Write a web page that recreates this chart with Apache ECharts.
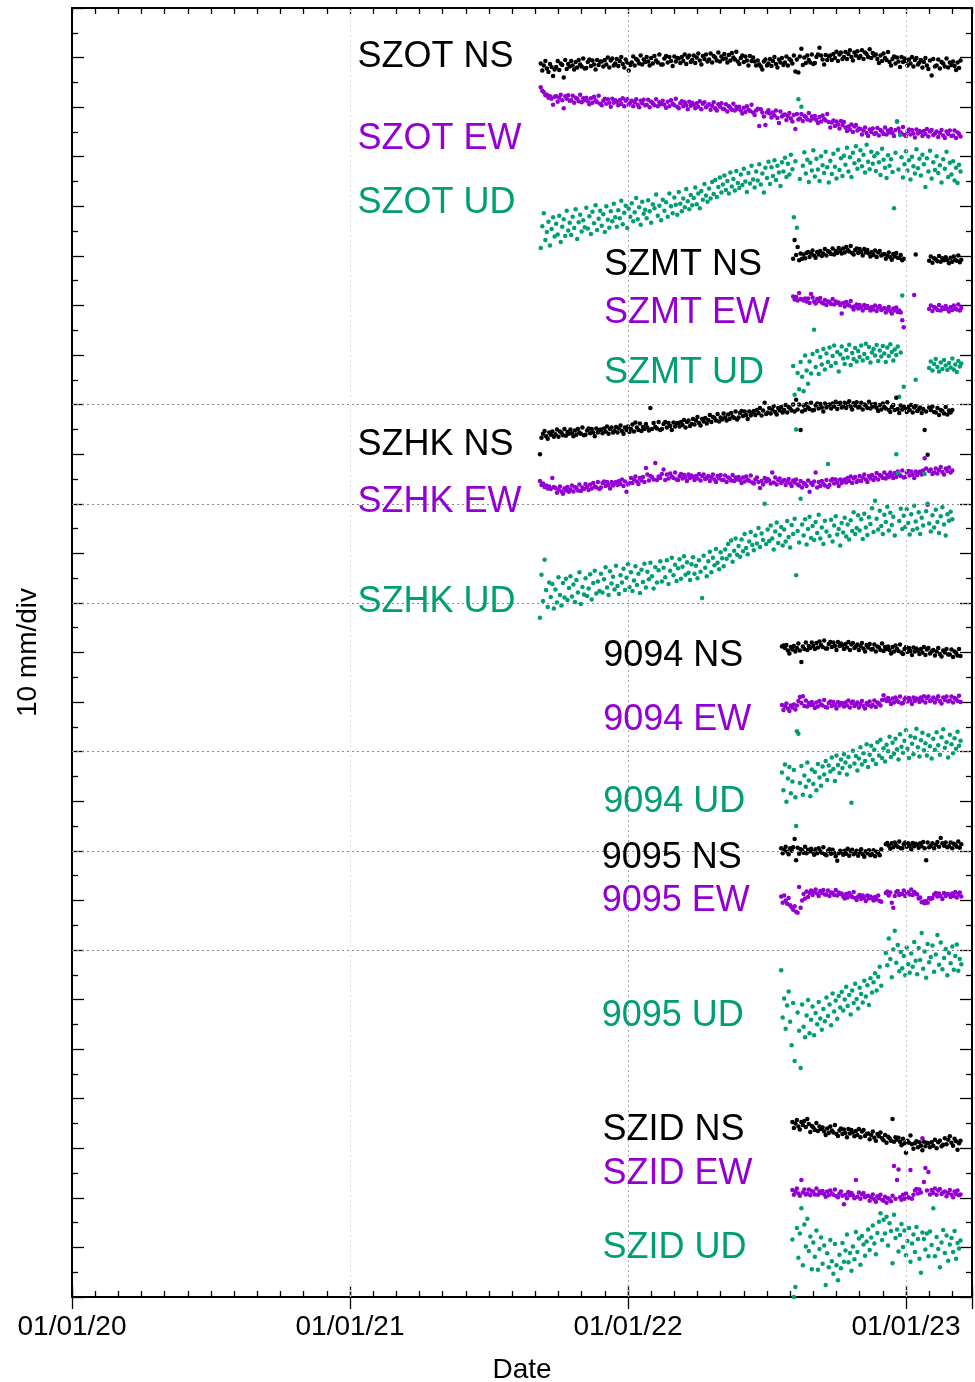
<!DOCTYPE html>
<html>
<head>
<meta charset="utf-8">
<title>GNSS displacement time series</title>
<script src="https://cdn.jsdelivr.net/npm/echarts@6.0.0/dist/echarts.min.js"></script>
<style>
  html, body { margin: 0; padding: 0; background: #ffffff; }
  #chart { width: 975px; height: 1382px; }
</style>
</head>
<body>
<div id="chart"></div>
<script>
// Daily solutions thinned to one epoch every STEP_DAYS days.
const STEP_DAYS = 2;

// Tick labels of the date axis (one per year, Jan 1st).
const yearTickLabels = ['01/01/20', '01/01/21', '01/01/22', '01/01/23'];

// Component names and the baseline (mm on the stacked axis) of each trace.
const componentNames = ['NS', 'EW', 'UD'];
const szotOffsets = [249, 239, 222];
const szmtOffsets = [210, 200, 189];
const szhkOffsets = [177, 165, 150];
const s9094Offsets = [130, 120, 110];
const s9095Offsets = [90, 80, 62];
const szidOffsets = [33, 21, 10];

// ---- SZOT (first epoch 2021-09-08), displacement in mm ----
const szotStart = '2021-09-08';
const szotNS = [
-0.2,-1.6,-0.6,0.3,-1.2,-1.9,-0.3,-0.9,-2.7,-1.4,
-0.9,0.3,-1.5,-0.2,-0.5,-3.0,0.5,-1.3,-0.3,-0.8,
0.3,-0.6,-1.4,0.1,-1.0,0.5,-0.4,-0.8,0.8,-1.2,
-1.1,0.1,0.6,-0.7,0.4,-0.4,-1.4,0.5,-0.5,0.2,
0.2,-0.8,0.5,-0.4,1.0,-1.0,0.4,0.8,-0.6,-0.2,
0.7,-0.7,0.3,1.1,-0.3,-1.0,0.6,0.0,-1.6,-0.5,
0.0,1.2,-0.6,0.7,0.4,-0.2,1.4,-0.4,0.6,0.1,
1.1,0.2,-0.6,0.9,-0.2,1.3,0.4,0.0,1.6,-0.4,
-0.4,0.8,1.3,0.0,1.1,0.3,-0.7,1.2,0.2,0.9,
0.8,-0.1,1.1,0.3,1.6,-0.3,1.0,1.4,0.1,0.5,
1.4,-0.1,1.0,1.8,0.4,-0.4,1.3,0.7,1.6,0.2,
0.6,1.8,0.0,1.3,1.0,0.4,2.0,0.2,1.2,0.7,
1.7,0.8,0.0,1.5,0.4,1.9,1.0,0.6,2.2,0.2,
-0.3,0.9,1.4,0.1,1.2,0.4,-0.6,1.3,0.3,1.0,
0.2,-0.6,0.4,-0.4,-0.8,-1.4,0.2,0.6,-0.6,-0.2,
0.7,-0.7,0.3,1.1,-0.3,-1.0,0.6,0.0,0.9,-0.5,
0.0,1.2,-0.6,0.7,0.4,-0.2,1.4,-1.8,0.6,-2.0,
1.2,2.8,-0.5,1.0,-0.1,1.4,0.5,0.0,1.6,-0.3,
-0.1,1.1,1.6,3.0,1.4,0.6,-0.4,1.5,0.5,1.2,
1.4,0.5,1.7,0.9,2.2,0.3,1.6,2.0,0.7,1.1,
2.1,0.7,1.7,2.5,1.1,0.4,2.0,1.4,2.3,0.9,
1.3,2.5,0.7,2.0,1.7,1.1,2.7,0.9,1.9,1.4,
1.6,0.7,-0.1,1.4,0.3,1.8,0.9,0.5,2.1,0.1,
-0.6,0.7,1.2,-0.2,1.0,0.2,-0.9,1.1,0.1,0.8,
0.3,-0.6,0.6,-0.2,1.1,-0.8,0.5,0.9,-0.4,0.0,
0.5,-1.0,0.1,0.9,-0.6,-1.3,0.4,-2.6,0.7,-0.8,
-0.6,0.6,-1.2,0.1,-0.2,-0.8,0.8,-1.0,0.0,-0.5,
0.2,-0.7,-1.5,0.0,-1.1,0.4
];
const szotEW = [
5.0,4.3,4.0,3.4,3.5,2.9,3.2,2.7,1.5,3.1,
3.2,2.1,2.9,3.5,2.4,0.8,3.2,2.7,3.4,2.3,
2.4,3.3,1.9,2.9,2.7,2.2,3.5,2.0,2.8,2.4,
2.9,2.2,1.6,2.8,1.9,3.1,2.4,2.0,3.3,1.7,
1.4,2.3,2.7,1.7,2.6,1.9,1.1,2.7,1.9,2.4,
2.1,1.4,2.4,1.7,2.8,1.2,2.3,2.6,1.5,1.9,
2.3,1.2,2.0,2.6,1.5,1.0,2.3,1.8,2.5,1.4,
1.5,2.5,1.0,2.1,1.8,1.4,2.6,1.2,2.0,1.6,
2.3,1.5,0.9,2.1,1.2,2.4,1.7,1.4,2.7,1.1,
0.8,1.8,2.2,1.2,2.0,1.4,0.6,2.1,1.3,1.9,
1.5,0.8,1.8,1.1,2.2,0.6,1.7,2.0,1.0,1.3,
1.6,0.5,1.3,2.0,0.8,0.3,1.6,1.1,1.8,0.7,
0.6,1.6,0.1,1.2,0.9,0.5,1.7,0.3,1.1,0.7,
1.1,0.3,-0.3,0.9,0.0,1.2,0.5,0.2,1.5,-0.1,
-0.6,0.3,0.7,-2.8,0.6,-0.1,-0.9,-2.6,-0.1,0.4,
-0.3,-1.1,-0.1,-0.7,0.3,-1.2,-2.2,0.1,-0.9,-0.6,
-0.5,-1.6,-0.8,-0.2,-1.3,-1.9,-0.6,-3.4,-0.4,-1.5,
-1.3,-0.4,-1.8,-0.8,-1.0,-1.5,-0.2,-1.7,-0.9,-1.3,
-0.8,-1.6,-2.2,-1.0,-1.9,-0.7,-1.4,-1.7,-0.4,-2.0,
-3.1,-2.1,-1.7,-2.8,-1.9,-2.5,-3.3,-1.8,-2.6,-2.0,
-3.1,-3.8,-2.9,-3.5,-2.5,-4.0,-2.9,-2.6,-3.7,-3.3,
-3.4,-4.5,-3.7,-3.1,-4.2,-4.8,-3.5,-4.0,-3.3,-4.4,
-4.2,-3.2,-4.7,-3.6,-3.9,-4.4,-3.1,-4.5,-3.7,-4.1,
-3.4,-4.2,-4.8,-3.6,-1.9,-3.3,-4.0,-4.3,-3.0,-4.6,
-4.8,-3.9,-3.5,-4.5,-3.6,-4.3,-5.1,-3.5,-4.3,-3.8,
-4.0,-4.8,-3.8,-4.4,-3.4,-4.9,-3.9,-3.6,-4.6,-4.3,
-3.9,-5.0,-4.2,-3.6,-4.7,-5.2,-3.9,-4.4,-3.7,-4.8,
-4.7,-3.7,-5.2,-4.1,-4.4,-4.9
];
const szotUD = [
-10.4,-6.0,-3.4,-8.8,-7.2,-5.1,-9.9,-6.6,-4.2,-8.1,
-5.5,-7.7,-3.9,-9.2,-6.1,-4.6,-8.0,-2.9,-6.9,-5.3,
-7.8,-4.1,-6.4,-2.6,-8.6,-5.2,-3.7,-7.1,-4.8,-6.2,
-2.3,-6.5,-4.0,-7.6,-3.1,-5.4,-1.8,-6.8,-4.5,-2.9,
-5.9,-3.6,-7.2,-2.0,-4.7,-6.3,-3.0,-5.0,-1.5,-4.2,
-6.1,-2.8,-4.4,-0.9,-5.6,-3.3,-1.9,-6.4,-2.5,-4.1,
-1.4,-5.0,-3.2,-0.3,-4.6,-2.2,-5.7,-1.1,-3.5,-2.7,
-4.4,-0.8,-3.0,-5.3,-1.6,-2.4,0.4,-3.9,-1.9,-4.8,
-0.7,-2.9,-1.2,-4.1,0.6,-2.0,-3.4,-0.2,-1.7,-3.7,
0.9,-1.5,-3.0,-0.4,-2.2,1.5,-1.0,-2.6,0.3,-1.8,
-0.3,1.8,-1.6,0.6,-2.4,1.1,-0.7,2.5,0.2,-1.1,
1.6,-0.4,2.9,0.5,3.3,-0.1,1.9,3.8,0.8,2.4,
4.2,1.3,3.1,0.6,4.8,2.0,3.5,1.2,5.1,2.7,
1.7,4.4,2.3,5.6,3.0,0.9,4.7,2.6,6.2,3.4,
1.8,5.0,3.2,6.5,2.4,4.6,0.8,5.8,3.7,7.0,
2.5,5.9,4.1,7.3,3.3,6.2,4.8,2.1,6.9,5.0,
7.8,3.9,6.6,4.4,8.4,5.5,-4.2,7.1,-6.3,19.6,
3.5,18.1,6.2,8.9,4.6,7.4,2.9,6.8,5.2,9.3,
4.0,7.6,5.4,3.1,8.1,6.3,4.7,9.0,5.9,2.8,
7.2,4.5,8.6,6.0,3.6,9.4,5.3,7.7,4.1,8.2,
6.4,9.8,5.0,7.9,3.9,8.8,6.7,10.1,5.6,7.3,
9.3,6.1,8.4,4.8,10.4,7.0,5.5,9.0,6.6,8.1,
5.1,8.7,6.9,4.3,9.6,7.4,5.8,3.7,8.3,6.2,
7.5,4.9,-2.4,8.8,15.1,5.4,12.4,7.9,3.8,6.5,
9.1,5.2,7.3,3.4,8.0,6.1,4.6,9.5,5.7,7.6,
4.2,8.4,6.5,1.9,7.7,5.0,9.2,3.6,6.9,5.3,
8.1,4.7,6.3,2.8,7.5,5.6,9.0,3.9,6.8,4.4,
7.1,3.2,5.8,2.7,6.4,5.0
];

// ---- SZMT (first epoch 2022-08-05), outage around the new year ----
const szmtStart = '2022-08-05';
const szmtNS = [
-0.6,3.2,0.2,1.8,-0.9,0.5,-0.6,0.3,-0.5,0.6,
0.8,-0.2,0.5,1.1,0.1,-0.4,0.8,0.3,1.0,0.0,
0.5,1.4,0.1,1.0,0.8,0.4,1.5,0.3,1.0,0.6,
1.6,1.0,0.5,1.5,0.7,1.8,1.2,0.9,2.0,0.6,
0.3,1.2,1.5,0.6,1.4,0.8,0.1,1.4,0.7,1.2,
0.5,-0.1,0.8,0.2,1.1,-0.2,0.7,1.0,0.1,0.3,
0.4,-0.6,0.1,0.7,-0.3,-0.8,0.4,-0.1,0.6,-0.4,
-0.4,0.2,-0.9,-0.6,null,null,null,null,null,null,
null,0.3,null,null,null,null,null,null,null,null,
-1.0,-0.1,-1.4,-0.5,-0.7,-1.1,0.0,-1.2,-0.5,-0.9,
-0.3,-0.9,-1.5,-0.4,-1.2,-0.1,-0.8,-1.0,0.1,-1.3,
-0.8
];
const szmtEW = [
1.8,1.2,1.7,1.0,2.5,1.3,1.2,1.0,1.4,0.8,
1.4,0.5,2.3,1.6,0.8,0.4,1.3,0.9,1.5,0.6,
0.4,1.1,0.1,0.8,0.7,0.3,1.3,0.2,0.8,0.5,
0.6,0.1,-1.6,0.5,-0.2,0.7,0.2,0.0,0.9,-0.3,
-0.8,-0.1,0.2,-0.6,0.1,-0.4,-1.0,0.1,-0.5,-0.1,
-0.5,-1.0,-0.3,-0.8,0.0,-1.1,-0.4,-0.1,-0.9,-0.7,
-0.5,-1.4,-0.8,-0.3,-1.1,-1.6,-0.6,-1.0,-0.4,-1.3,
-1.0,-1.4,-3.0,-4.4,null,null,null,null,null,null,
2.1,null,null,null,null,null,null,null,null,null,
-0.7,0.0,-1.1,-0.3,-0.5,-0.9,0.1,-1.0,-0.4,-0.7,
-0.1,-0.7,-1.2,-0.3,-0.9,0.0,-0.6,-0.8,0.2,-1.0,
-0.5
];
const szmtUD = [
-1.2,-7.0,-14.0,-2.6,-5.9,-0.4,-3.4,-6.3,0.9,-2.1,
-4.8,-0.3,-2.7,1.2,6.1,-1.4,1.8,-2.8,0.6,-0.9,
2.2,-1.9,1.3,-0.4,2.5,-1.2,0.8,2.9,-0.6,1.6,
-2.3,1.1,2.7,0.3,-0.8,2.0,0.5,3.1,-1.0,1.4,
0.2,2.4,-0.3,1.8,0.6,2.9,-0.1,1.2,3.3,0.4,
2.6,-0.5,1.5,2.2,0.9,3.0,-0.2,1.9,0.7,2.8,
1.3,-0.4,2.5,0.8,3.2,1.6,-0.1,2.1,1.0,2.7,
-7.4,1.5,13.0,-5.4,null,null,null,null,null,null,
null,-4.0,null,null,null,null,null,null,null,null,
-1.6,-0.3,-2.1,-0.8,0.2,-1.4,-2.3,-0.5,-1.8,0.0,
-1.1,-2.0,-0.6,-1.5,0.3,-1.9,-0.9,-2.4,-0.2,-1.3,
-0.7
];

// ---- SZHK (first epoch 2021-09-07) ----
const szhkStart = '2021-09-07';
const szhkNS = [
-7.0,-3.7,-2.9,-2.3,-3.4,-3.9,-2.6,-3.1,-2.4,-3.5,
-3.0,-2.0,-3.5,-2.4,-2.7,-3.2,-1.9,-3.3,-2.5,-2.9,
-2.0,-2.8,-3.4,-2.2,-3.1,-1.9,-2.6,-2.9,-1.6,-3.2,
-3.1,-2.2,-1.8,-2.8,-1.9,-2.6,-3.4,-1.8,-2.6,-2.1,
-2.0,-2.8,-1.8,-2.4,-1.4,-2.9,-1.9,-1.6,-2.6,-2.3,
-1.5,-2.6,-1.8,-1.2,-2.3,-2.9,-1.6,-2.1,-1.4,-2.5,
-1.9,-1.0,-2.4,-0.6,-1.6,-2.1,-0.8,-2.3,-1.5,-1.9,
-0.9,-1.6,-2.2,2.3,-1.9,-0.7,-1.5,-1.8,-0.5,-2.1,
-1.9,-0.9,-0.5,-1.6,-0.7,-1.3,-2.1,-0.6,-1.4,-0.8,
-0.7,-1.4,-0.5,-1.1,-0.1,-1.6,-0.5,-0.2,-1.3,-0.9,
0.1,-1.0,-0.2,0.5,-0.7,-1.2,0.1,-0.4,0.3,-0.8,
-0.1,0.9,-0.5,0.5,0.3,-0.2,1.1,-0.4,0.4,0.0,
1.2,0.4,-0.2,1.0,0.1,1.3,0.6,0.3,1.6,0.0,
0.4,1.3,1.7,0.7,1.6,0.9,0.1,1.6,0.8,1.4,
1.7,0.9,1.9,1.3,2.3,0.8,1.8,3.4,1.1,1.4,
2.3,1.2,2.0,2.7,1.5,1.0,2.3,1.8,2.5,1.4,
1.9,2.9,1.4,2.5,2.2,1.8,3.0,1.6,4.0,2.0,
3.0,-2.1,1.6,2.8,1.9,3.1,2.4,2.1,3.4,1.8,
1.9,2.8,3.2,2.2,3.1,2.4,1.6,3.2,2.4,2.9,
3.0,2.2,3.2,2.6,3.6,2.1,3.1,3.4,2.4,2.7,
3.4,2.3,3.1,3.7,2.6,2.0,3.3,2.8,3.5,2.4,
2.5,3.4,2.0,3.0,2.8,2.3,3.6,2.2,3.0,2.6,
3.1,2.3,1.7,2.9,2.0,3.2,2.5,2.2,3.5,1.9,
1.5,2.5,2.9,1.9,4.4,2.1,1.3,2.8,2.0,2.6,
2.3,1.5,2.5,1.9,2.9,1.4,2.4,2.7,1.7,2.0,
2.4,1.3,2.1,-2.1,1.6,-7.1,2.4,1.9,2.6,1.5,
1.4,2.3,0.9,1.9,1.7,1.2,2.5,1.0,1.8,1.4,
1.9
];
const szhkEW = [
-0.4,-1.2,-0.9,-1.6,-1.3,-1.9,-1.5,-2.0,0.2,-1.6,
-1.8,-2.8,-2.1,-1.5,-2.5,-3.0,-1.9,-2.3,-1.6,-2.6,
-2.1,-1.3,-2.5,-1.6,-1.8,-2.3,-1.1,-2.4,-1.7,-2.0,
-1.0,-1.6,-2.2,-1.1,-1.9,-0.8,-1.5,-1.7,-0.6,-2.0,
-1.7,-0.8,-0.5,-1.4,-0.6,-1.2,-1.9,-0.6,-1.3,-0.8,
-0.6,-1.2,-0.4,-1.0,-0.1,-1.4,-0.5,-2.6,-1.1,-0.8,
0.2,-0.8,-0.1,0.5,-0.5,-1.0,0.2,-0.3,0.4,-0.6,
2.2,0.9,-0.3,0.6,0.4,-0.1,3.2,-0.2,0.5,0.2,
1.0,1.9,-0.2,0.9,0.1,1.1,0.5,0.2,1.3,-0.1,
-0.2,0.6,1.0,0.1,0.8,0.3,-0.4,0.9,0.2,0.7,
0.4,-0.2,0.6,0.1,1.0,-0.3,0.6,0.9,0.0,0.2,
0.6,-0.4,0.3,0.9,-0.1,-0.6,0.6,0.1,0.8,-0.2,
-0.2,0.7,-0.6,0.3,0.1,-0.3,0.8,-0.4,0.3,-0.1,
0.4,-0.2,-0.8,0.3,-0.5,0.5,-0.1,-0.4,0.7,-0.7,
-0.9,-0.1,0.3,-0.6,-1.8,-0.4,-1.1,0.2,-0.5,0.0,
-0.3,-0.9,1.3,-0.7,0.3,-1.1,-0.2,0.1,-0.8,-0.5,
-0.2,-1.2,-0.5,0.0,-0.9,-1.4,-0.3,-0.7,-0.1,-1.1,
-1.3,-0.4,-1.7,-0.8,-1.0,-1.4,-0.3,-2.6,-0.8,-1.2,
-0.5,1.3,-1.7,-0.6,-1.4,-0.4,-1.0,-1.3,-0.2,-1.6,
-1.2,-0.3,0.0,-0.9,-0.1,-0.7,-1.4,-0.1,-0.8,-0.3,
-0.1,-0.7,0.2,-0.4,0.5,-0.8,0.1,0.4,-0.6,-0.3,
0.6,-0.4,0.3,0.9,-0.1,-0.6,0.6,0.1,0.8,-0.2,
0.3,1.2,-0.1,0.8,0.6,0.2,1.3,0.1,0.8,0.4,
1.3,0.7,0.2,1.2,0.4,1.5,0.9,0.6,1.7,0.3,
0.4,1.3,1.6,0.7,1.5,0.9,0.2,1.5,0.8,1.3,
1.5,0.9,1.7,4.2,2.1,-5.2,1.6,1.9,1.0,1.3,
2.1,1.1,1.8,2.4,1.4,0.9,2.1,1.6,2.3,1.3,
1.7
];
const szhkUD = [
-13.0,-4.3,-9.6,-1.3,-7.4,-10.8,-5.9,-8.8,-6.2,-11.1,
-7.3,-9.9,-4.8,-8.4,-10.5,-6.0,-8.9,-5.1,-9.4,-7.0,
-4.6,-8.7,-6.3,-9.8,-5.4,-7.9,-3.8,-10.2,-6.8,-8.3,
-5.0,-8.6,-7.1,-4.2,-9.3,-6.0,-3.5,-8.1,-5.7,-7.6,
-4.1,-7.9,-5.2,-2.8,-6.9,-8.4,-3.6,-6.1,-4.7,-7.3,
-2.5,-6.6,-8.2,-4.4,-5.9,-3.1,-7.4,-4.9,-2.2,-6.8,
-3.8,-7.6,-5.5,-2.6,-6.4,-4.1,-8.0,-3.3,-5.8,-2.1,
-6.9,-3.7,-5.2,-1.9,-4.6,-7.1,-2.8,-5.9,-3.4,-1.6,
-5.7,-2.9,-4.8,-1.4,-6.2,-3.5,-0.9,-4.4,-2.3,-5.6,
-3.0,-1.2,-5.1,-2.7,-0.6,-4.3,-1.8,-3.9,-5.4,-2.2,
-0.8,-4.1,-2.5,-5.0,-1.4,-3.7,-9.0,-0.5,-2.9,-4.6,
-1.6,0.3,-3.8,-0.9,-2.4,0.9,-1.9,-3.2,0.2,-1.0,
-2.6,0.8,-1.1,1.9,-0.4,2.6,-1.7,0.5,3.0,-0.3,
1.5,-0.7,2.8,0.4,3.9,1.1,-0.2,2.4,4.3,1.7,
0.6,3.6,2.0,5.1,1.3,4.0,2.7,10.0,1.9,4.8,
2.5,5.6,3.0,0.8,4.4,6.2,2.1,3.7,5.3,1.6,
4.8,2.4,6.5,3.3,1.2,5.7,3.9,7.0,-4.4,4.5,
2.2,11.0,5.8,3.6,6.9,1.8,4.9,7.4,3.1,5.5,
2.7,6.3,4.1,7.8,3.0,5.2,1.9,6.6,4.4,18.0,
3.5,6.8,2.4,5.6,7.5,3.8,4.9,1.6,6.1,4.2,
7.2,3.4,5.8,2.8,6.7,4.5,8.3,3.9,5.1,7.7,
4.6,6.9,2.9,8.0,5.2,3.7,7.3,5.9,9.1,4.3,
10.6,7.0,4.8,8.6,5.5,3.9,7.8,6.3,9.4,4.6,
8.2,5.7,7.4,3.6,20.0,16.2,6.5,9.0,4.9,7.6,
5.3,8.9,6.1,3.8,7.9,4.7,9.6,6.4,5.0,8.3,
3.9,7.2,5.6,16.0,8.5,10.0,6.0,4.4,7.7,5.2,
8.8,6.3,4.1,7.5,9.3,5.8,3.6,7.9,6.6,8.4,
6.9
];

// ---- 9094 (first epoch 2022-07-21) ----
const s9094Start = '2022-07-21';
const s9094NS = [
1.2,1.4,0.9,1.5,0.4,-0.2,1.1,0.6,1.3,0.2,
0.9,1.8,0.4,-1.9,1.2,0.7,2.0,0.5,1.3,0.9,
2.0,1.3,0.7,1.9,1.0,2.2,1.5,1.1,2.4,0.8,
0.8,1.7,2.1,1.1,2.0,1.3,0.5,2.1,1.3,1.8,
1.4,0.7,1.7,1.0,2.1,0.5,1.6,1.9,0.9,1.2,
1.6,0.5,1.3,1.9,0.8,0.2,1.5,1.0,1.7,0.6,
0.7,1.6,0.2,1.2,1.0,0.5,1.8,0.3,1.1,0.7,
1.2,0.5,-0.2,1.1,0.2,1.4,0.7,0.3,1.6,0.0,
-0.3,0.7,1.1,0.1,0.9,0.3,-0.5,1.0,0.2,0.8,
0.4,-0.3,0.7,0.0,1.1,-0.5,0.6,0.9,-0.2,0.2,
0.5,-0.6,0.2,0.9,-0.3,-0.8,0.4,0.0,0.7,-0.4,
-0.4,0.6,-0.9,0.2,-0.1,-0.6,0.7,-0.7
];
const s9094EW = [
-0.6,-1.6,-0.9,-0.3,-1.3,-1.8,-0.7,-1.1,-0.5,-1.5,
-0.7,0.2,1.0,-0.2,1.2,-0.8,0.3,-0.9,-0.2,-0.6,
0.0,-0.6,-1.2,-0.1,-0.9,0.2,-0.5,-0.7,0.4,-1.0,
-1.1,-0.2,0.1,-0.8,0.0,-0.6,-1.3,0.0,-0.7,-0.2,
-0.3,-0.9,-0.1,-0.7,0.3,-1.1,-0.2,0.1,-0.8,-0.5,
-0.1,-1.1,-0.4,0.2,-0.8,-1.3,-0.2,-0.6,0.1,-0.9,
-0.6,0.3,-1.0,-0.1,-0.3,-0.7,0.4,1.4,0.5,0.2,
0.8,0.2,-0.4,0.7,-0.1,0.9,0.3,0.0,1.1,-0.3,
-0.2,0.6,0.9,0.1,0.8,0.3,-0.4,0.9,0.2,0.7,
0.6,0.0,0.9,0.3,1.2,-0.1,0.8,1.1,0.2,0.4,
0.9,-0.1,0.6,1.2,0.2,-0.3,0.9,0.4,1.1,0.1,
0.3,1.1,-0.1,0.8,0.6,0.2,1.3,0.0
];
const s9094UD = [
-4.2,-7.8,-2.6,-10.1,-5.4,-3.1,-8.4,-6.0,-3.7,-9.2,
4.1,3.6,-6.3,-2.9,-8.7,-4.8,-7.1,-2.2,-5.8,-9.0,
-3.6,-6.5,-4.1,-7.8,-2.5,-5.2,-6.9,-3.0,-4.6,-1.9,
-5.7,-2.8,-4.0,-1.2,-3.5,-5.9,-0.8,-2.7,-4.3,-1.6,
-3.3,-0.5,-2.2,-4.6,-1.1,-3.0,-10.3,0.2,-2.4,-0.9,
-3.8,-1.4,0.9,-2.6,-0.3,-1.9,1.5,-3.1,-0.6,1.2,
-1.7,0.4,-2.5,1.9,-0.8,2.4,-1.3,0.7,-2.0,1.4,
0.1,3.0,-1.1,1.8,-0.4,2.6,0.5,-1.6,3.5,1.0,
-0.2,2.2,4.3,0.6,-1.3,3.1,1.6,-0.5,2.8,4.6,
0.9,-1.0,2.3,3.8,0.3,1.7,-0.8,3.3,1.1,-1.4,
2.6,0.4,3.9,1.3,-0.6,2.9,4.5,0.8,1.9,-1.2,
3.4,1.5,-0.3,2.7,0.6,4.0,1.2,2.2
];

// ---- 9095 (first epoch 2022-07-20), short outage early December ----
const s9095Start = '2022-07-20';
const s9095NS = [
0.5,-0.5,0.2,0.8,-0.2,-0.7,0.5,0.0,0.7,2.4,
-1.9,0.6,-0.6,0.3,0.1,-0.4,0.8,-0.5,0.2,-0.1,
0.4,-0.2,-0.8,0.3,-0.5,0.5,-0.1,-0.4,0.7,-0.7,
-0.9,0.0,0.3,-0.6,0.2,-0.4,-1.1,-2.0,-0.5,0.0,
-0.2,-0.8,0.0,-0.6,0.4,-1.0,-0.1,0.2,-0.7,-0.4,
0.0,-1.0,-0.3,0.3,-0.7,-1.2,-0.1,-0.5,0.1,-0.9,
-0.7,0.1,-1.1,-0.2,-0.4,-0.9,0.3,null,null,1.3,
1.6,1.0,0.4,1.5,0.7,1.7,1.1,0.8,1.9,0.5,
0.5,1.3,1.7,0.8,1.5,1.0,0.3,1.6,0.9,1.4,
1.2,0.6,1.5,0.9,1.8,0.5,-1.9,1.7,0.7,1.0,
1.5,0.5,1.2,1.8,0.8,2.6,1.5,1.0,1.7,0.7,
0.9,1.7,0.5,1.4,1.2,0.8,1.9,0.6,1.3
];
const s9095EW = [
0.8,-0.5,1.0,0.0,-0.7,0.5,-1.0,-1.4,-1.9,-1.2,
-2.3,-2.5,2.7,-1.5,0.0,1.3,0.4,1.8,0.7,1.5,
2.0,1.1,1.7,2.2,1.4,0.9,1.9,1.5,2.1,1.2,
1.2,2.0,0.9,1.6,1.5,1.1,2.1,1.0,1.6,1.3,
1.4,0.8,0.4,1.3,0.6,1.5,1.0,0.7,1.7,0.5,
0.1,0.8,1.1,0.3,1.0,0.5,-0.1,1.0,0.4,0.8,
0.5,0.0,0.7,0.2,1.0,-0.1,-0.3,null,null,1.5,
1.8,1.0,1.6,-0.5,-1.5,0.9,1.7,1.9,1.1,1.3,
1.3,2.0,0.9,1.7,1.6,1.2,2.2,1.1,1.7,1.4,
1.2,0.4,0.6,-0.4,-0.2,-0.6,-0.1,-0.5,0.5,0.3,
0.5,1.2,1.5,0.8,1.4,0.9,0.3,1.5,0.9,1.3,
1.2,0.7,1.4,0.9,1.7,0.6,1.3,1.6,0.8
];
const s9095UD = [
3.9,-5.6,-1.8,-7.9,-3.2,-0.4,-6.5,-11.2,-2.7,-14.4,
33.0,-4.6,-8.3,-15.8,-3.0,-7.5,-9.6,-5.2,-2.1,-8.8,
-6.1,-3.4,-9.2,-4.7,-7.0,-2.5,-5.8,-8.1,-3.9,-6.4,
-1.6,-5.3,-3.0,-7.2,-0.8,-4.4,-2.2,-5.9,-1.3,-3.6,
-0.5,-4.2,-2.0,0.6,-3.3,-1.1,-5.0,-0.2,-2.7,1.2,
-1.9,-3.8,0.4,-0.9,-2.6,1.8,-1.4,0.9,-3.1,2.3,
-0.6,1.5,3.3,-0.2,2.6,4.6,0.8,null,null,7.4,
4.9,10.3,6.2,2.5,8.1,11.9,5.4,9.0,3.7,7.6,
4.3,6.8,2.9,8.5,5.1,3.4,7.3,4.6,9.6,5.8,
3.1,8.4,6.0,11.4,4.2,7.7,2.4,9.2,5.5,6.6,
8.9,3.6,7.1,11.0,5.0,9.5,4.1,6.4,8.2,2.9,
7.4,5.3,8.7,4.0,6.8,9.1,3.8,6.2,5.1
];

// ---- SZID (first epoch 2022-08-04) ----
const szidStart = '2022-08-04';
const szidNS = [
2.3,1.1,2.0,2.7,1.4,0.8,2.3,1.7,2.5,1.3,
2.9,1.9,0.3,1.5,1.2,0.7,2.1,0.5,1.4,0.9,
1.2,0.4,-0.3,1.0,0.1,1.4,0.6,0.2,1.7,-0.1,
-0.5,0.6,1.0,-0.1,0.8,0.1,-0.8,0.9,0.0,0.7,
0.2,-0.6,0.5,-0.3,0.9,-0.8,0.4,0.7,-0.5,-0.1,
0.0,-1.2,-0.3,0.4,-0.9,-1.5,-0.1,-0.6,0.2,-1.0,
-1.4,-0.3,-1.9,-0.7,-1.0,-1.5,2.9,-1.7,-0.8,-1.3,
-0.9,-1.7,-2.4,-1.1,-2.0,-3.9,-1.5,-1.9,-0.4,-2.2,
-3.1,-2.0,-1.6,-2.8,-1.8,-2.5,-3.4,-1.7,-2.6,-1.9,
-2.0,-2.8,-1.8,-2.5,-1.3,-3.0,-1.8,-1.5,-2.6,-2.3,
-1.0,-2.2,-1.3,-0.6,-1.9,-2.5,-1.1,-1.6,-3.3,-2.0,
-1.5
];
const szidEW = [
0.6,-0.4,0.3,0.9,-0.1,-0.6,2.6,0.1,0.7,-0.3,
-0.1,0.7,-0.5,0.4,0.2,-0.3,0.9,-0.4,0.3,0.0,
0.4,-0.2,-0.8,0.3,-0.5,0.5,-0.1,-0.4,0.7,-0.7,
-0.9,-0.1,0.3,-0.6,-2.3,-0.4,-1.1,0.2,-0.5,0.0,
-0.5,-1.1,2.6,-0.8,0.1,-1.2,-0.3,0.0,-0.9,-0.7,
-0.6,-1.6,-0.9,-0.3,-1.3,-1.8,-0.7,-1.1,-0.4,-1.4,
-1.6,-0.8,-2.0,-1.1,-1.3,-1.7,-0.6,5.4,-1.2,2.6,
4.7,-0.9,-1.4,-0.4,-1.2,-0.1,-0.8,-1.0,4.6,-1.2,
-0.4,0.5,0.8,-0.1,0.7,0.1,11.0,2.2,5.0,0.5,
4.2,-0.3,0.6,0.0,0.9,-0.4,0.5,0.8,-0.2,0.1,
0.3,-0.7,0.0,0.6,-0.4,-0.9,0.3,-0.2,0.5,-0.5,
-0.3
];
const szidUD = [
1.6,-10.0,-8.0,3.9,-2.1,2.8,7.9,-3.6,4.6,0.2,
5.8,-0.7,2.2,-4.4,1.0,-1.9,3.4,-4.5,-0.3,2.0,
-3.3,0.4,-7.6,-1.2,-4.0,1.5,-2.8,-5.3,0.7,-3.6,
-6.6,-1.5,-4.2,0.9,-2.9,-0.6,2.6,-3.0,-1.1,-4.7,
0.2,-2.4,3.1,-0.9,1.8,-3.5,2.3,0.6,-1.7,1.2,
3.6,-0.5,2.0,4.4,0.8,-1.4,2.9,5.2,6.9,1.5,
5.6,2.8,6.2,0.4,4.9,3.3,-3.2,6.6,1.9,3.6,
-0.8,2.5,4.7,0.1,3.4,-1.6,1.3,3.9,-2.9,0.8,
2.6,-0.9,4.1,1.7,-2.3,-5.1,3.0,1.7,-0.4,2.8,
-1.8,3.2,0.5,7.9,-1.8,2.1,-0.3,-4.0,1.0,3.5,
-1.1,2.4,-2.7,0.6,1.9,-0.9,3.3,-2.3,0.9,-0.2,
1.4
];

// Stations in drawing order.
const stationNames = ['SZOT', 'SZMT', 'SZHK', '9094', '9095', 'SZID'];
const stationStarts = [szotStart, szmtStart, szhkStart, s9094Start, s9095Start, szidStart];
const stationSeries = [
  [szotNS, szotEW, szotUD],
  [szmtNS, szmtEW, szmtUD],
  [szhkNS, szhkEW, szhkUD],
  [s9094NS, s9094EW, s9094UD],
  [s9095NS, s9095EW, s9095UD],
  [szidNS, szidEW, szidUD]
];
const stationOffsets = [szotOffsets, szmtOffsets, szhkOffsets, s9094Offsets, s9095Offsets, szidOffsets];

// ---------------- layout / style ----------------
const FONT = '"Liberation Sans", Arial, Helvetica, sans-serif';
const COLORS = ['#000000', '#9400d3', '#009e73'];
const X_MAX = 38.85;          // months after 2020-01-01 at the right frame
const Y_MAX = 260;            // mm

// Where each station caption sits: [caption date, mm of NS, EW, UD captions]
const captionAnchors = [
  ['2021-01-11', 250.2, 233.6, 220.7],
  ['2021-11-30', 208.1, 198.4, 186.3],
  ['2021-01-11', 171.8, 160.3, 140.2],
  ['2021-11-29', 129.2, 116.3, 99.9],
  ['2021-11-27', 88.5, 79.8, 56.6],
  ['2021-11-28', 33.6, 24.7, 9.9]
];

// Date -> position on the month-based x scale (0 = Jan 2020).
function monthPos(date) {
  const y = date.getUTCFullYear(), m = date.getUTCMonth(), d = date.getUTCDate();
  const dim = new Date(Date.UTC(y, m + 1, 0)).getUTCDate();
  return (y - 2020) * 12 + m + (d - 1) / dim;
}
function parseDay(s) {
  const p = s.split('-').map(Number);
  return new Date(Date.UTC(p[0], p[1] - 1, p[2]));
}
function addDays(date, n) {
  return new Date(date.getTime() + n * 86400000);
}

const series = [];

// Reference grid lines (dotted), kept under the data.
series.push({
  type: 'scatter',
  data: [],
  z: 1,
  silent: true,
  markLine: {
    silent: true,
    animation: false,
    symbol: ['none', 'none'],
    label: { show: false },
    emphasis: { disabled: true },
    data: [
      { xAxis: 12, lineStyle: { color: '#dddddd', width: 1, type: [2, 3] } },
      { xAxis: 24, lineStyle: { color: '#a8a8a8', width: 1, type: [2, 3] } },
      { xAxis: 36, lineStyle: { color: '#c8c8c8', width: 1, type: [2, 3] } },
      { yAxis: 180, lineStyle: { color: '#888888', width: 1, type: [2, 3] } },
      { yAxis: 160, lineStyle: { color: '#888888', width: 1, type: [2, 3] } },
      { yAxis: 140, lineStyle: { color: '#888888', width: 1, type: [2, 3] } },
      { yAxis: 110, lineStyle: { color: '#888888', width: 1, type: [2, 3] } },
      { yAxis: 90, lineStyle: { color: '#888888', width: 1, type: [2, 3] } },
      { yAxis: 70, lineStyle: { color: '#888888', width: 1, type: [2, 3] } }
    ]
  }
});

stationNames.forEach((st, s) => {
  const start = parseDay(stationStarts[s]);
  stationSeries[s].forEach((vals, c) => {
    const pts = [];
    vals.forEach((v, i) => {
      if (v === null) return;
      pts.push([monthPos(addDays(start, i * STEP_DAYS)), stationOffsets[s][c] + v]);
    });
    series.push({
      name: st + ' ' + componentNames[c],
      type: 'scatter',
      data: pts,
      z: 2,
      symbol: 'circle',
      symbolSize: 4.5,
      itemStyle: { color: COLORS[c], opacity: 1 },
      emphasis: { disabled: true },
      animation: false
    });
  });
});

const tickLine = { color: '#000000', width: 1.3 };
const frameLine = { show: true, onZero: false, lineStyle: { color: '#000000', width: 2 } };

function monthAxis(position) {
  return {
    type: 'value', position: position, min: 0, max: X_MAX, interval: 1,
    axisLine: frameLine,
    axisTick: { show: true, inside: true, length: 6, lineStyle: tickLine },
    axisLabel: { show: false },
    splitLine: { show: false }
  };
}
function yearAxis(position, withLabels) {
  const ax = {
    type: 'value', position: position, min: 0, max: X_MAX, interval: 12,
    axisLine: { show: false },
    axisTick: { show: true, inside: true, length: 12, lineStyle: tickLine },
    axisLabel: {
      show: withLabels, margin: 16, fontSize: 28, color: '#000000', fontFamily: FONT,
      formatter: v => (Math.abs(v % 12) < 1e-6 ? yearTickLabels[Math.round(v / 12)] || '' : '')
    },
    splitLine: { show: false }
  };
  if (withLabels) {
    ax.name = 'Date';
    ax.nameLocation = 'middle';
    ax.nameGap = 59;
    ax.nameTextStyle = { fontSize: 28, color: '#000000', fontFamily: FONT };
  }
  return ax;
}
function mmAxis(position, withName) {
  const ax = {
    type: 'value', position: position, min: 0, max: Y_MAX, interval: 10,
    axisLine: frameLine,
    axisTick: { show: true, inside: true, length: 12, lineStyle: tickLine },
    minorTick: { show: true, splitNumber: 2, length: 6, lineStyle: tickLine },
    axisLabel: { show: false },
    splitLine: { show: false },
    minorSplitLine: { show: false }
  };
  if (withName) {
    ax.name = '10 mm/div';
    ax.nameLocation = 'middle';
    ax.nameGap = 30;
    ax.nameTextStyle = { fontSize: 28, color: '#000000', fontFamily: FONT };
  }
  return ax;
}

const chart = echarts.init(document.getElementById('chart'), null, { renderer: 'canvas' });
chart.setOption({
  backgroundColor: '#ffffff',
  animation: false,
  grid: { left: 72, right: 3, top: 8, bottom: 85, containLabel: false, outerBoundsMode: 'none' },
  xAxis: [monthAxis('bottom'), yearAxis('bottom', true), monthAxis('top'), yearAxis('top', false)],
  yAxis: [mmAxis('left', true), mmAxis('right', false)],
  series: series
});

// Station captions, anchored in axis coordinates.
const captions = [];
stationNames.forEach((st, s) => {
  const a = captionAnchors[s];
  const xm = monthPos(parseDay(a[0]));
  for (let c = 0; c < 3; c++) {
    const p = chart.convertToPixel({ seriesIndex: 1 }, [xm, a[c + 1]]);
    captions.push({
      type: 'text',
      x: p[0], y: p[1],
      z: 10,
      silent: true,
      style: {
        text: st + ' ' + componentNames[c],
        fill: COLORS[c],
        fontSize: 36,
        fontFamily: FONT,
        align: 'left',
        verticalAlign: 'middle'
      }
    });
  }
});
chart.setOption({ graphic: captions });
</script>
</body>
</html>
